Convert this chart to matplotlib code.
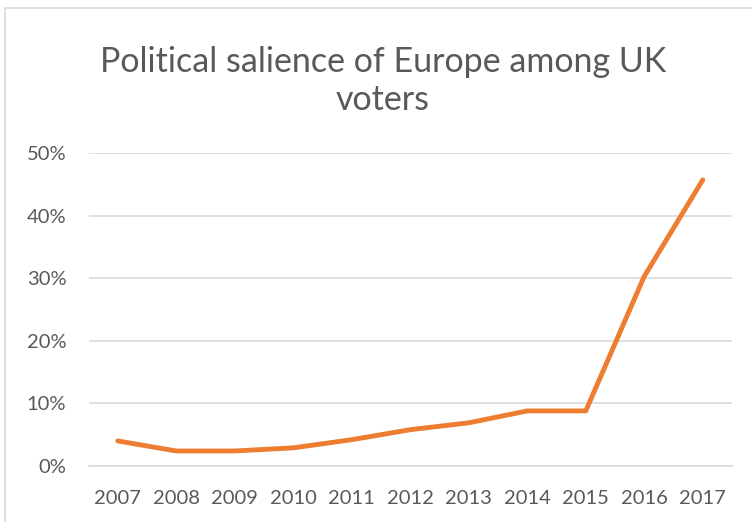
import matplotlib
matplotlib.use("Agg")
import matplotlib.pyplot as plt
from matplotlib.patches import Rectangle
from matplotlib.ticker import PercentFormatter

years = ["2007", "2008", "2009", "2010", "2011", "2012", "2013", "2014", "2015", "2016", "2017"]
salience = [0.040, 0.024, 0.024, 0.029, 0.042, 0.058, 0.069, 0.088, 0.088, 0.303, 0.457]
y_ticks = [0.0, 0.1, 0.2, 0.3, 0.4, 0.5]
title = "Political salience of Europe among UK\nvoters"

plt.rcParams['font.family'] = ['Lato', 'DejaVu Sans']
text_color = "#595959"
grid_color = "#d9d9d9"

fig = plt.figure(figsize=(7.52, 5.22), dpi=100)
ax = fig.add_axes([88.5/752, 1-466/522, (732-88.5)/752, (466-153)/522])

x = list(range(len(years)))
ax.plot(x, salience, color="#ED7D31", lw=3.5, solid_capstyle="round", solid_joinstyle="round", zorder=3)

ax.set_xlim(-0.5, len(years) - 0.5)
ax.set_ylim(0, 0.5)
ax.set_yticks(y_ticks)
ax.yaxis.set_major_formatter(PercentFormatter(1.0, decimals=0))
ax.set_xticks(x)
ax.set_xticklabels(years)

ax.grid(axis="y", color=grid_color, lw=1.2)
ax.set_axisbelow(True)
for s in ["top", "right", "left"]:
    ax.spines[s].set_visible(False)
ax.spines["bottom"].set_color(grid_color)
ax.spines["bottom"].set_linewidth(1.2)
ax.tick_params(axis="both", length=0, labelsize=14.5, colors=text_color)
ax.tick_params(axis="y", pad=16)
ax.tick_params(axis="x", pad=17)

fig.text(383/752, 1-81/522, title, ha="center", va="center", fontsize=24.5,
         color=text_color, linespacing=1.25)

fig.patches.append(Rectangle((5/752, -0.1), 1.2, 1-8/522 + 0.1, transform=fig.transFigure,
                             fill=False, edgecolor=grid_color, lw=1.2))

fig.savefig("out.png", dpi=100)
